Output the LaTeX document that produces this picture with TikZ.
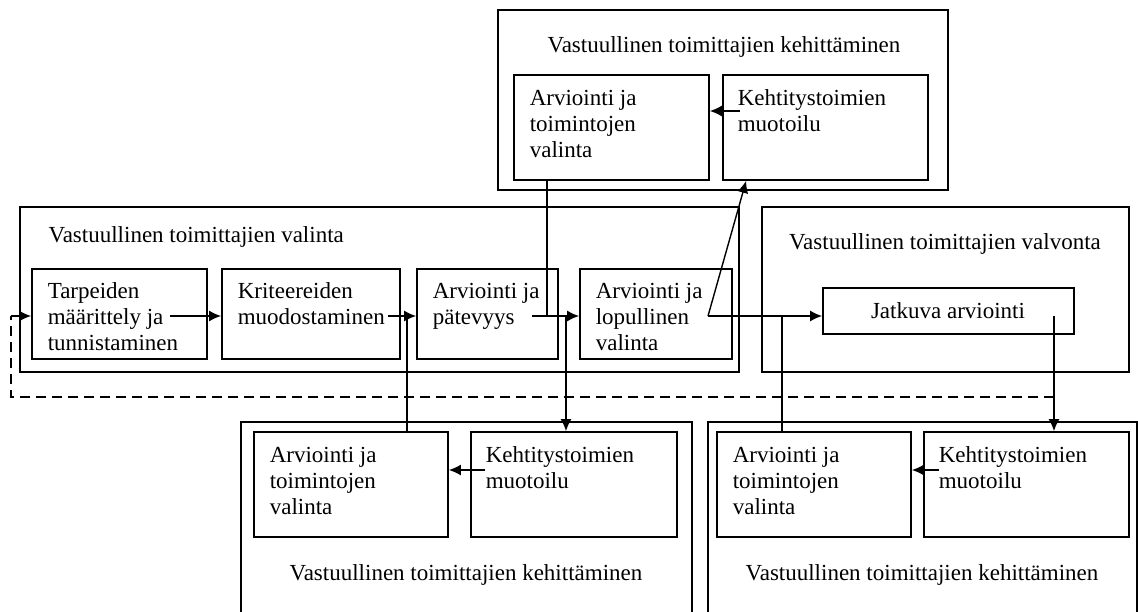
\documentclass[tikz,border=0pt]{standalone}
\usepackage{fontspec}
\setmainfont{Liberation Serif}
\usetikzlibrary{positioning,fit,arrows.meta}

\begin{document}
\begin{tikzpicture}[x=0.5pt,y=-0.5pt,>={Latex[length=6pt,width=5.5pt]},line width=0.7pt,
  frame/.style={draw,line width=0.9pt,inner sep=0pt},
  txt/.style={inner sep=0pt,align=left,font=\fontsize{11.5}{13}\selectfont},
  title/.style={inner sep=0pt,font=\fontsize{11.5}{13}\selectfont}]

  \clip (0,0) rectangle (1138,611);

  % kehittaminen, ylhaalla
  \node[frame,fit={(498,10) (948,190)}] (devtop) {};
  \node[title] (devtop-t) at (724,47) {Vastuullinen toimittajien kehittäminen};
  \node[frame,fit={(514,75) (709,180)}] (arvtop) {};
  \node[frame,fit={(723,75) (928,180)}] (kehtop) {};
  \node[txt,below right=7.5pt and 8pt of arvtop.north west] (arvtop-t) {Arviointi ja\\toimintojen\\valinta};
  \node[txt,below right=7.5pt and 7.5pt of kehtop.north west] (kehtop-t) {Kehtitystoimien\\muotoilu};

  % valinta
  \node[frame,fit={(20,207) (739,372)}] (sel) {};
  \node[title,anchor=west] (sel-t) at (48,237) {Vastuullinen toimittajien valinta};
  \node[frame,fit={(32,269) (207,359)}] (tarp) {};
  \node[frame,fit={(222,269) (400,359)}] (krit) {};
  \node[frame,fit={(417,269) (558,359)}] (arvp) {};
  \node[frame,fit={(580,269) (732,359)}] (lopv) {};
  \node[txt,below right=7pt and 8pt of tarp.north west] (tarp-t) {Tarpeiden\\määrittely ja\\tunnistaminen};
  \node[txt,below right=7pt and 8pt of krit.north west] (krit-t) {Kriteereiden\\muodostaminen};
  \node[txt,below right=7pt and 8pt of arvp.north west] (arvp-t) {Arviointi ja\\pätevyys};
  \node[txt,below right=7pt and 8pt of lopv.north west] (lopv-t) {Arviointi ja\\lopullinen\\valinta};

  % valvonta
  \node[frame,fit={(762,207) (1129,372)}] (mon) {};
  \node[title] (mon-t) at (945,244) {Vastuullinen toimittajien valvonta};
  \node[frame,fit={(823,288) (1074,334)}] (jatk) {};
  \node[title] (jatk-t) at (948,311) {Jatkuva arviointi};

  % kehittaminen, alhaalla vasemmalla
  \node[frame,fit={(241,422) (692,640)}] (devl) {};
  \node[frame,fit={(254,432) (448,537)}] (arvl) {};
  \node[frame,fit={(471,432) (677,537)}] (kehl) {};
  \node[txt,below right=7.5pt and 8pt of arvl.north west] (arvl-t) {Arviointi ja\\toimintojen\\valinta};
  \node[txt,below right=7.5pt and 7.5pt of kehl.north west] (kehl-t) {Kehtitystoimien\\muotoilu};
  \node[title] (devl-t) at (466,575) {Vastuullinen toimittajien kehittäminen};

  % kehittaminen, alhaalla oikealla
  \node[frame,fit={(708,422) (1137,640)}] (devr) {};
  \node[frame,fit={(717,432) (911,537)}] (arvr) {};
  \node[frame,fit={(924,432) (1129,537)}] (kehr) {};
  \node[txt,below right=7.5pt and 8pt of arvr.north west] (arvr-t) {Arviointi ja\\toimintojen\\valinta};
  \node[txt,below right=7.5pt and 7.5pt of kehr.north west] (kehr-t) {Kehtitystoimien\\muotoilu};
  \node[title] (devr-t) at (922,575) {Vastuullinen toimittajien kehittäminen};

  % liitospisteet
  \coordinate (c1) at (170,316);
  \coordinate (c2) at (388,316);
  \coordinate (c3) at (532,316);
  \coordinate (c4) at (708,316);
  \coordinate (c5) at (1054,316);
  \coordinate (j2) at (407,316);
  \coordinate (j3a) at (547,316);
  \coordinate (j3b) at (566,316);
  \coordinate (j4) at (782,316);
  \coordinate (fb) at (1054,397);
  \coordinate (fbin) at (11,316);
  \coordinate (k1) at (740,111);
  \coordinate (k2) at (485,470);
  \coordinate (k3) at (939,470);

  % nuolet
  \draw[->] (fbin) -- (fbin -| tarp.west);
  \draw[dash pattern=on 5pt off 3pt] (fb) -| (fbin);
  \draw[->] (c1) -- (c1 -| krit.west);
  \draw[->] (c2) -- (c2 -| arvp.west);
  \draw (j2) -- (j2 |- arvl.north);
  \draw[->] (c3) -- (c3 -| lopv.west);
  \draw (j3a |- arvtop.south) -- (j3a);
  \draw[->] (j3b) -- (j3b |- kehl.north);
  \draw[->] (c4) -- (c4 -| jatk.west);
  \draw[->] (c4) -- ([xshift=12pt]kehtop.south west);
  \draw (j4) -- (j4 |- arvr.north);
  \draw[->] (c5) -- (c5 |- kehr.north);
  \draw[->] (k1) -- (k1 -| arvtop.east);
  \draw[->] (k2) -- (k2 -| arvl.east);
  \draw[->] (k3) -- (k3 -| arvr.east);
\end{tikzpicture}
\end{document}
